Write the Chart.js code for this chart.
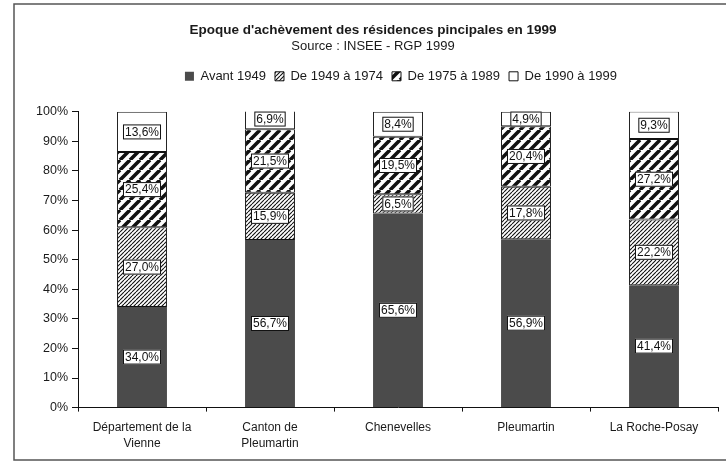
<!DOCTYPE html>
<html>
<head>
<meta charset="utf-8">
<script src="https://cdn.jsdelivr.net/npm/chart.js@4.4.1/dist/chart.umd.min.js"></script>
<style>
  html, body { margin: 0; padding: 0; background: #fff; }
  #wrap { width: 726px; height: 462px; position: relative; }
</style>
</head>
<body>
<div id="wrap"><canvas id="chart"></canvas></div>
<script>
const communes = [['Département de la', 'Vienne'], ['Canton de', 'Pleumartin'], 'Chenevelles', 'Pleumartin', 'La Roche-Posay'];
const periods = ['Avant 1949', 'De 1949 à 1974', 'De 1975 à 1989', 'De 1990 à 1999'];
const avant1949 = [34.0, 56.7, 65.6, 56.9, 41.4];
const de1949a1974 = [27.0, 15.9, 6.5, 17.8, 22.2];
const de1975a1989 = [25.4, 21.5, 19.5, 20.4, 27.2];
const de1990a1999 = [13.6, 6.9, 8.4, 4.9, 9.3];
const yTicks = [0, 10, 20, 30, 40, 50, 60, 70, 80, 90, 100];

const FONT = '"Liberation Sans", Arial, sans-serif';

function hatch(size, width) {
    const c = document.createElement('canvas');
    c.width = size; c.height = size;
    const g = c.getContext('2d');
    g.fillStyle = '#fff';
    g.fillRect(0, 0, size, size);
    g.strokeStyle = '#111';
    g.lineWidth = width;
    g.beginPath();
    for (let k = -1; k <= 1; k++) {
        g.moveTo(k * size, size);
        g.lineTo(k * size + size, 0);
    }
    g.stroke();
    return g.createPattern(c, 'repeat');
}

const fills = ['#4b4b4b', hatch(4, 1.1), hatch(10, 3.6), '#ffffff'];
const series = [avant1949, de1949a1974, de1975a1989, de1990a1999];

const framePlugin = {
    id: 'frame',
    beforeDraw(chart) {
        const ctx = chart.ctx;
        ctx.save();
        ctx.fillStyle = '#fff';
        ctx.fillRect(0, 0, chart.width, chart.height);
        ctx.strokeStyle = '#555';
        ctx.lineWidth = 1.5;
        ctx.strokeRect(14, 4, 760, 456);
        ctx.restore();
    }
};

// room under the legend, and legend centred over the plot
const legendTweak = {
    id: 'legendTweak',
    afterInit(chart) {
        const lg = chart.legend;
        const fit = lg.fit;
        lg.fit = function () {
            fit.call(this);
            this.height += 19;
        };
    },
    afterLayout(chart) {
        chart.legend.left += 28;
        chart.legend.right += 28;
    }
};

const valueLabels = {
    id: 'valueLabels',
    afterDatasetsDraw(chart) {
        const ctx = chart.ctx;
        ctx.save();
        ctx.font = '12px ' + FONT;
        ctx.textAlign = 'center';
        ctx.textBaseline = 'middle';
        chart.data.datasets.forEach((ds, i) => {
            chart.getDatasetMeta(i).data.forEach((bar, j) => {
                const txt = ds.data[j].toFixed(1).replace('.', ',') + '%';
                const cy = (bar.y + bar.base) / 2;
                const w = ctx.measureText(txt).width + 4;
                ctx.fillStyle = '#fff';
                ctx.fillRect(bar.x - w / 2, cy - 7.5, w, 15);
                ctx.strokeStyle = '#111';
                ctx.lineWidth = 1;
                ctx.strokeRect(bar.x - w / 2 + 0.5, cy - 7, w - 1, 14);
                ctx.fillStyle = '#111';
                ctx.fillText(txt, bar.x, cy + 0.5);
            });
        });
        ctx.restore();
    }
};

new Chart(document.getElementById('chart'), {
    type: 'bar',
    data: {
        labels: communes,
        datasets: periods.map((p, i) => ({
            label: p,
            data: series[i],
            backgroundColor: fills[i],
            borderColor: '#111',
            borderWidth: i === 0 ? 0 : 1,
            borderSkipped: false,
            barPercentage: 0.78,
            categoryPercentage: 0.5
        }))
    },
    options: {
        responsive: true,
        maintainAspectRatio: false,
        animation: false,
        layout: { padding: { left: 28, right: 8, top: 0, bottom: 2 } },
        scales: {
            x: {
                stacked: true,
                grid: { drawOnChartArea: false, offset: true, tickLength: 4, color: '#111' },
                border: { color: '#111', width: 1 },
                ticks: { color: '#1a1a1a', font: { family: FONT, size: 12, lineHeight: 1.35 }, padding: 8, maxRotation: 0, autoSkip: false }
            },
            y: {
                stacked: true,
                min: 0,
                max: 100,
                afterFit: s => { s.width = 50; },
                afterBuildTicks: s => { s.ticks = yTicks.map(v => ({ value: v })); },
                grid: { drawOnChartArea: false, tickLength: 6, color: '#111' },
                border: { color: '#111', width: 1 },
                ticks: { color: '#1a1a1a', font: { family: FONT, size: 12.5 }, padding: 4, callback: v => v + '%' }
            }
        },
        plugins: {
            title: {
                display: true,
                text: "Epoque d'achèvement des résidences pincipales en 1999",
                color: '#1a1a1a',
                font: { family: FONT, size: 13.5, weight: 'bold' },
                padding: { top: 22, bottom: 0 }
            },
            subtitle: {
                display: true,
                text: 'Source : INSEE - RGP 1999',
                color: '#1a1a1a',
                font: { family: FONT, size: 13 },
                padding: { top: 0, bottom: 7 }
            },
            legend: {
                position: 'top',
                labels: {
                    color: '#1a1a1a',
                    font: { family: FONT, size: 13 },
                    boxWidth: 9,
                    boxHeight: 9,
                    padding: 9
                }
            },
            tooltip: { enabled: false }
        }
    },
    plugins: [framePlugin, legendTweak, valueLabels]
});
</script>
</body>
</html>
